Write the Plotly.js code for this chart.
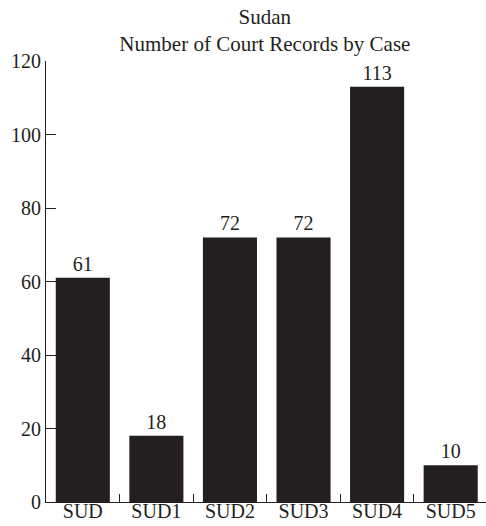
<!DOCTYPE html>
<html><head><meta charset="utf-8">
<script src="https://cdn.plot.ly/plotly-3.0.1.min.js"></script>
<style>html,body{margin:0;padding:0;background:#fff;}#chart{width:486px;height:526px;}</style>
</head><body><div id="chart"></div>
<script>
const categories = ["SUD", "SUD1", "SUD2", "SUD3", "SUD4", "SUD5"];
const records = [61, 18, 72, 72, 113, 10];
const yTicks = [0, 20, 40, 60, 80, 100, 120];

const font = {family: "Liberation Serif, Times New Roman, serif", size: 20, color: "#231f20"};
const titleFont = {family: "Liberation Serif, Times New Roman, serif", size: 21, color: "#231f20"};

Plotly.newPlot("chart", [{
  type: "bar",
  x: categories,
  y: records,
  text: records.map(String),
  textposition: "outside",
  cliponaxis: false,
  textfont: font,
  marker: {color: "#231f20"},
  hoverinfo: "skip"
}], {
  width: 486, height: 526,
  margin: {l: 46, r: 0, t: 61, b: 24},
  paper_bgcolor: "#fff", plot_bgcolor: "#fff",
  font: font,
  bargap: 0.265,
  showlegend: false,
  title: {text: "Sudan<br>Number of Court Records by Case", font: titleFont, x: 0.545, xanchor: "center", y: 0.955, yanchor: "top"},
  xaxis: {
    range: [-0.5, 5.48], type: "category",
    showline: true, linecolor: "#231f20", linewidth: 1,
    ticks: "inside", tickson: "boundaries", ticklen: 8, tickcolor: "#231f20",
    ticklabelstandoff: -9,
    showgrid: false, zeroline: false, tickfont: font, fixedrange: true
  },
  yaxis: {
    range: [0, 120], tickvals: yTicks,
    showline: true, linecolor: "#231f20", linewidth: 1,
    ticks: "inside", ticklen: 10, tickcolor: "#231f20",
    showgrid: false, zeroline: false, tickfont: font, fixedrange: true
  }
}, {displayModeBar: false, staticPlot: true});
</script></body></html>
